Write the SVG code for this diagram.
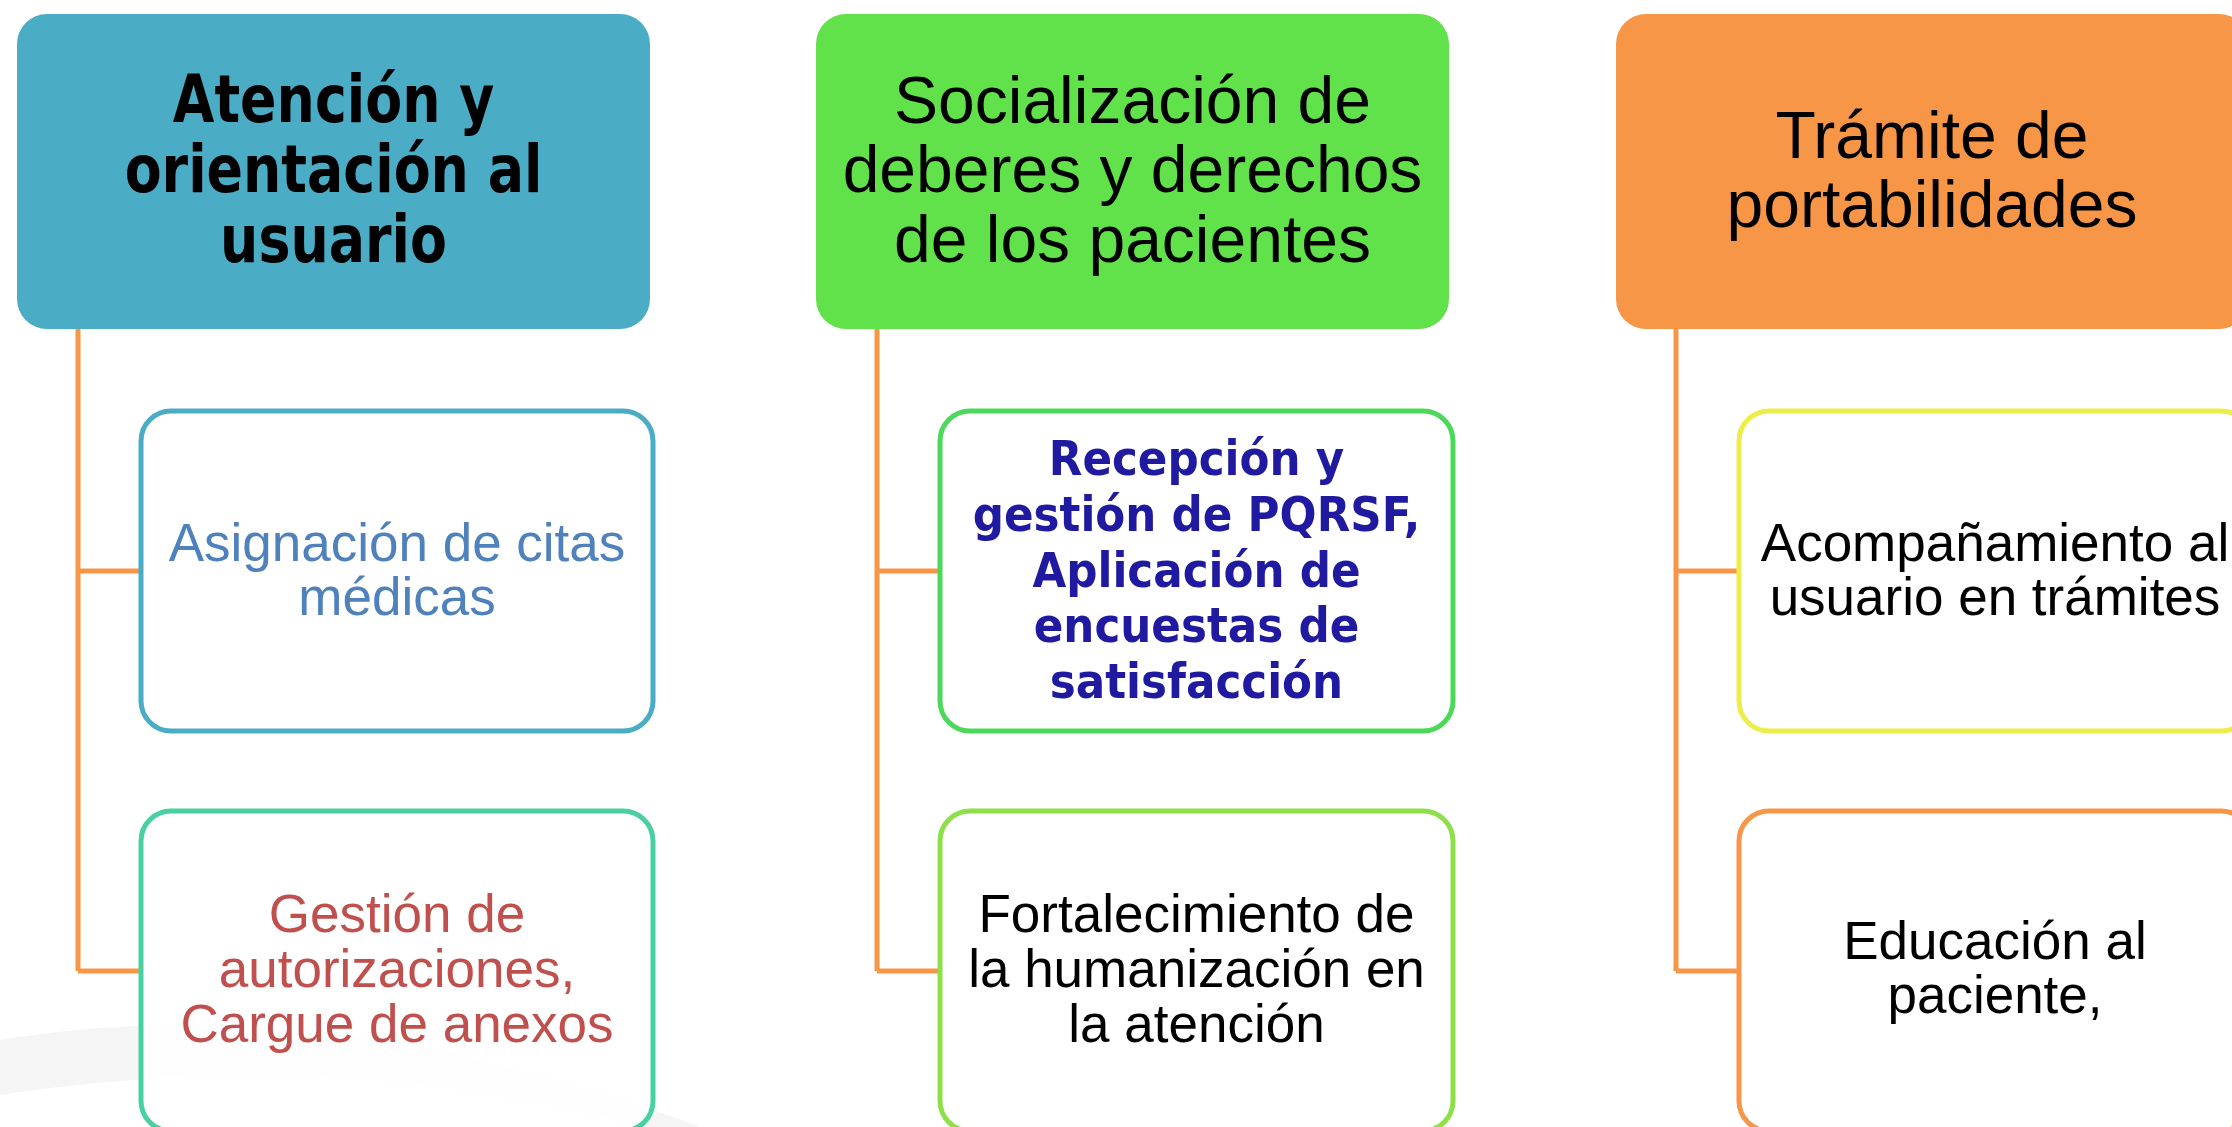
<svg xmlns="http://www.w3.org/2000/svg" width="2232" height="1127" viewBox="0 0 2232 1127">
<style>
.hdr{stroke:none}
.child{fill:#FFFFFF;fill-opacity:0.85;stroke-width:5}
.conn{fill:none;stroke:#F79646;stroke-width:5;stroke-linejoin:miter}
.tb{font-family:"DejaVu Sans Condensed","DejaVu Sans",sans-serif;font-weight:bold;font-stretch:condensed;text-anchor:middle}
.ta{font-family:"Liberation Sans",Arial,sans-serif;text-anchor:middle}
.h{font-size:66px;fill:#000}
.hb{font-size:65px;fill:#000}
.c{font-size:53px}
</style>
<rect x="0" y="0" width="2232" height="1127" fill="#FFFFFF"/>
<path d="M0,1040 Q330,985 700,1127 L640,1127 Q330,1045 0,1095 Z" fill="#F5F5F5"/>
<g id="connectors">
<path class="conn" d="M78,329 V971 M78,571 H141 M78,971 H141"/>
<path class="conn" d="M877,329 V971 M877,571 H940 M877,971 H940"/>
<path class="conn" d="M1676,329 V971 M1676,571 H1739 M1676,971 H1739"/>
</g>
<g id="h1">
<rect class="hdr" x="17" y="14" width="633" height="315" rx="30" ry="30" fill="#4BACC6"/>
<text class="tb hb" transform="translate(333.5,0) scale(0.92,1)"><tspan x="0" y="122">Atención y</tspan><tspan x="0" y="192">orientación al</tspan><tspan x="0" y="262">usuario</tspan></text>
</g>
<g id="h2">
<rect class="hdr" x="816" y="14" width="633" height="315" rx="30" ry="30" fill="#62E24A"/>
<text class="ta h"><tspan x="1132.5" y="123">Socialización de</tspan><tspan x="1132.5" y="192">deberes y derechos</tspan><tspan x="1132.5" y="262">de los pacientes</tspan></text>
</g>
<g id="h3">
<rect class="hdr" x="1616" y="14" width="633" height="315" rx="30" ry="30" fill="#F79646"/>
<text class="ta h"><tspan x="1932" y="158">Trámite de</tspan><tspan x="1932" y="227">portabilidades</tspan></text>
</g>
<g id="c1a">
<rect class="child" x="141" y="411" width="512" height="320" rx="30" ry="30" stroke="#4BACC6"/>
<text class="ta c" fill="#4F81BD"><tspan x="397" y="561">Asignación de citas</tspan><tspan x="397" y="615">médicas</tspan></text>
</g>
<g id="c1b">
<rect class="child" x="141" y="811" width="512" height="320" rx="30" ry="30" stroke="#48D0A0"/>
<text class="ta c" fill="#C0504D"><tspan x="397" y="932">Gestión de</tspan><tspan x="397" y="987">autorizaciones,</tspan><tspan x="397" y="1042">Cargue de anexos</tspan></text>
</g>
<g id="c2a">
<rect class="child" x="940" y="411" width="513" height="320" rx="30" ry="30" stroke="#4CD85A"/>
<text class="tb" font-size="48.5" fill="#1F1A9F"><tspan x="1196.5" y="475">Recepción y</tspan><tspan x="1196.5" y="531">gestión de PQRSF,</tspan><tspan x="1196.5" y="587">Aplicación de</tspan><tspan x="1196.5" y="642">encuestas de</tspan><tspan x="1196.5" y="698">satisfacción</tspan></text>
</g>
<g id="c2b">
<rect class="child" x="940" y="811" width="513" height="320" rx="30" ry="30" stroke="#8EE04A"/>
<text class="ta c" fill="#000"><tspan x="1196.5" y="932">Fortalecimiento de</tspan><tspan x="1196.5" y="987">la humanización en</tspan><tspan x="1196.5" y="1042">la atención</tspan></text>
</g>
<g id="c3a">
<rect class="child" x="1739" y="411" width="512" height="320" rx="30" ry="30" stroke="#EDED4A"/>
<text class="ta c" fill="#000"><tspan x="1995" y="561">Acompañamiento al</tspan><tspan x="1995" y="615">usuario en trámites</tspan></text>
</g>
<g id="c3b">
<rect class="child" x="1739" y="811" width="512" height="320" rx="30" ry="30" stroke="#F79646"/>
<text class="ta c" fill="#000"><tspan x="1995" y="959">Educación al</tspan><tspan x="1995" y="1013">paciente,</tspan></text>
</g>
</svg>
